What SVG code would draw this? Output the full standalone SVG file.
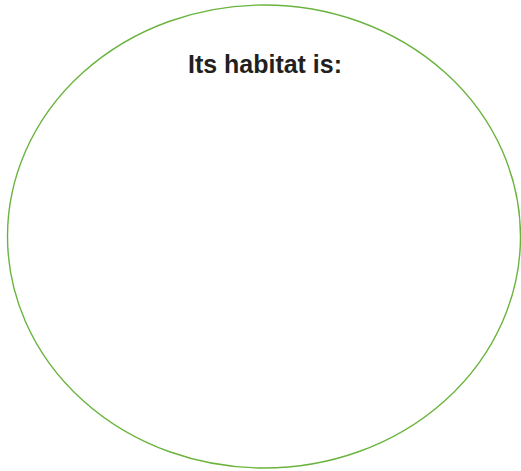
<svg xmlns="http://www.w3.org/2000/svg" width="521" height="471" viewBox="0 0 521 471">
<style>
.shape{fill:none;stroke:#6ab43e;stroke-width:1.4}
.title{font-family:"Liberation Sans",Arial,sans-serif;font-weight:bold;font-size:25px;fill:#231f20}
</style>
<rect width="521" height="471" fill="#ffffff"/>
<g id="habitat">
<ellipse class="shape" cx="264" cy="236.5" rx="256.5" ry="231.5"/>
<text class="title" x="188" y="72.5" textLength="154" lengthAdjust="spacingAndGlyphs">Its habitat is:</text>
</g>
</svg>
